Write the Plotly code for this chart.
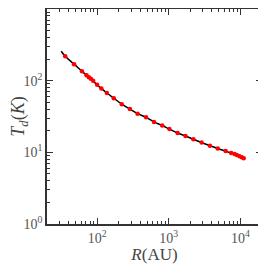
import plotly.graph_objects as go

# Model curve (black line)
R_model = [31.6, 35.9, 47.7, 61.5, 71.3, 81.8, 100, 114.7, 137, 171, 221, 287, 367, 482, 622,
           809, 1021, 1329, 1714, 2208, 2875, 3745, 4822, 6219, 7447, 8907, 10430, 11100]
T_model = [257, 219, 170, 135, 119, 106, 87.5, 77.9, 67.3, 56.9, 47.0, 40.1, 34.6, 30.8, 26.6,
           23.7, 21.1, 18.6, 16.9, 15.2, 13.7, 12.4, 11.3, 10.4, 9.77, 9.17, 8.51, 8.26]

# Data points (red dots)
R_data = [35.9, 47.7, 61.5, 71.3, 76.7, 81.8, 88.1, 100, 114.7, 137, 171, 221, 287, 367, 482,
          622, 809, 1021, 1329, 1714, 2208, 2875, 3745, 4822, 6219, 7447, 8266, 8907, 9685,
          10430, 11110]
T_data = [219, 170, 135, 119, 112, 106, 99.4, 87.5, 77.9, 67.3, 56.9, 47.0, 40.1, 34.6, 30.8,
          26.6, 23.7, 21.1, 18.6, 16.9, 15.2, 13.7, 12.4, 11.3, 10.4, 9.77, 9.46, 9.17, 8.79,
          8.51, 8.26]

x_tickvals = [100, 1000, 10000]
x_ticktext = ["10<sup>2</sup>", "10<sup>3</sup>", "10<sup>4</sup>"]
y_tickvals = [1, 10, 100, 1000]
y_ticktext = ["10<sup>0</sup>", "10<sup>1</sup>", "10<sup>2</sup>", "10<sup>3</sup>"]

fig = go.Figure()
fig.add_trace(go.Scatter(x=R_model, y=T_model, mode="lines",
                         line=dict(color="black", width=1.5, shape="spline"),
                         showlegend=False))
fig.add_trace(go.Scatter(x=R_data, y=T_data, mode="markers",
                         marker=dict(color="red", size=4.5, line=dict(width=0)),
                         showlegend=False))

font_family = "Liberation Serif"
axis_common = dict(
    type="log", showgrid=False, zeroline=False,
    showline=True, linecolor="#333", linewidth=1.5,
    ticks="inside", ticklen=6, tickwidth=1, tickcolor="#333",
    minor=dict(ticks="inside", ticklen=3, tickwidth=1, tickcolor="#333", dtick="D1"),
    tickfont=dict(family=font_family, size=14, color="#555"),
)

x_range = [1.301, 4.301]
y_range = [0, 3]

# page body has an 8px margin, so the figure is offset by 8px
fig.update_layout(
    width=258, height=256,
    margin=dict(l=36, r=4, t=1, b=36),
    paper_bgcolor="white", plot_bgcolor="white",
    xaxis=dict(axis_common, range=x_range, tickvals=x_tickvals, ticktext=x_ticktext,
               title=dict(text="<i>R</i>(AU)", font=dict(family=font_family, size=17, color="#444"),
                          standoff=6)),
    yaxis=dict(axis_common, range=y_range, tickvals=y_tickvals, ticktext=y_ticktext,
               title=dict(text="<i>T</i><sub><i>d</i></sub>(<i>K</i>)",
                          font=dict(family=font_family, size=18, color="#444"), standoff=2)),
    xaxis2=dict(axis_common, range=x_range, tickvals=x_tickvals, showticklabels=False,
                overlaying="x", side="top", anchor="y"),
    yaxis2=dict(axis_common, range=y_range, tickvals=y_tickvals, showticklabels=False,
                overlaying="y", side="right", anchor="x"),
)
# invisible trace to activate the mirrored axes
fig.add_trace(go.Scatter(x=[R_data[0]], y=[T_data[0]], xaxis="x2", yaxis="y2",
                         mode="markers", marker=dict(opacity=0), showlegend=False,
                         hoverinfo="skip"))

fig.write_html("out.html")
